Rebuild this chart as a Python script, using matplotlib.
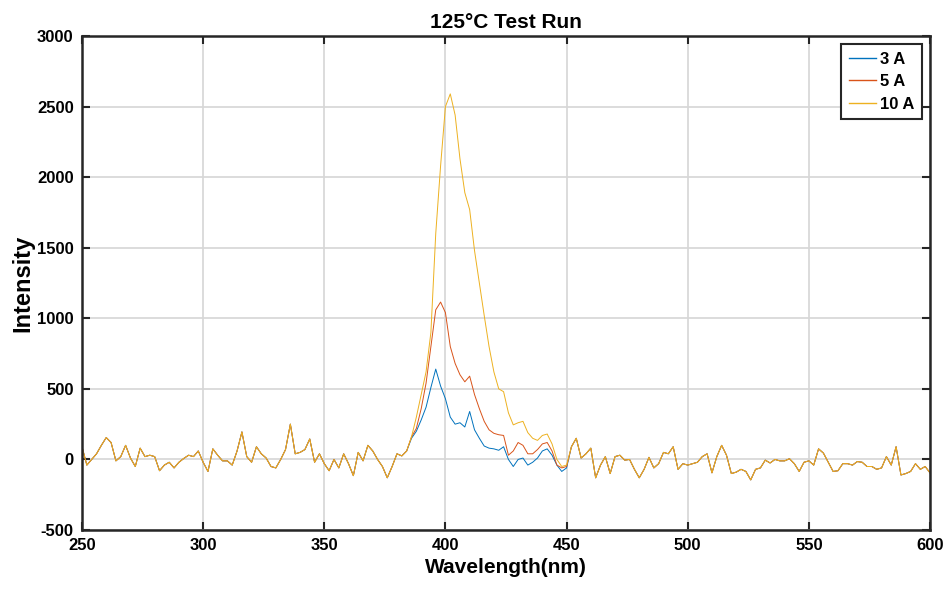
import numpy as np
import matplotlib
matplotlib.use("Agg")
import matplotlib.pyplot as plt

# --- data (2 nm steps) ---
wavelength = np.arange(250, 601, 2)

# shared baseline, 250-384 nm
base_left = [
    90, -40, 0, 40, 100, 155, 120, -10, 20, 100,
    10, -50, 80, 20, 30, 20, -80, -40, -20, -60,
    -20, 7, 30, 20, 60, -20, -85, 75, 30, -10,
    -10, -40, 60, 195, 20, -20, 90, 40, 10, -50,
    -60, 0, 70, 250, 40, 50, 70, 145, -20, 40,
    -30, -80, 0, -60, 40, -30, -115, 50, -10, 100,
    60, 0, -50, -130, -50, 40, 25, 60,
]

# peak region, 386-450 nm
peak_3a = [
    150, 200, 280, 370, 510, 640, 520, 430, 300, 250,
    260, 230, 340, 210, 150, 95, 80, 75, 65, 90,
    0, -50, 0, 10, -40, -20, 10, 60, 75, 30,
    -40, -85, -60,
]
peak_5a = [
    160, 220, 360, 540, 800, 1060, 1115, 1040, 800, 680,
    600, 550, 590, 460, 360, 270, 210, 185, 175, 170,
    30, 60, 120, 100, 40, 40, 70, 110, 120, 60,
    -40, -60, -50,
]
peak_10a = [
    160, 300, 460, 620, 900, 1600, 2080, 2500, 2590, 2440,
    2130, 1890, 1770, 1480, 1250, 1020, 800, 620, 500, 480,
    330, 245, 260, 270, 190, 150, 135, 170, 180, 110,
    0, -50, -40,
]

# shared baseline, 452-600 nm
base_right = [
    90, 150, 10, 40, 80, -130, -40, 20, -100, 20,
    30, -5, 0, -70, -130, -70, 15, -60, -30, 50,
    40, 90, -70, -30, -40, -30, -20, 20, 40, -95,
    20, 100, 30, -100, -90, -70, -85, -145, -70, -60,
    -5, -25, 0, -10, -10, 5, -30, -85, -20, -10,
    -40, 75, 45, -20, -85, -80, -30, -30, -40, -15,
    -20, -50, -50, -70, -60, 20, -40, 90, -110, -100,
    -85, -30, -70, -50, -95,
]

labels = ["3 A", "5 A", "10 A"]
colors = ["#0072BD", "#D95319", "#EDB120"]
peaks = [peak_3a, peak_5a, peak_10a]

plt.rcParams["font.family"] = ["Liberation Sans", "DejaVu Sans"]
plt.rcParams["font.weight"] = "bold"
plt.rcParams["axes.unicode_minus"] = False

fig = plt.figure(figsize=(9.49, 5.97), dpi=100)
ax = fig.add_axes([0.0864, 0.1122, 0.8936, 0.8275])

for lab, col, pk in zip(labels, colors, peaks):
    y = np.array(base_left + pk + base_right, dtype=float)
    ax.plot(wavelength, y, color=col, linewidth=0.7, label=lab)

ax.set_xlim(250, 600)
ax.set_ylim(-500, 3000)
ax.set_xticks(np.arange(250, 601, 50))
ax.set_yticks(np.arange(-500, 3001, 500))

ax.grid(True, color="#d6d6d6", linewidth=1.2)
ax.set_axisbelow(True)
for s in ax.spines.values():
    s.set_linewidth(1.8)
    s.set_color("#262626")

ax.tick_params(direction="in", length=6, width=1.5, top=True, right=True,
               labelsize=12, pad=6, colors="#262626")
for t in ax.get_xticklabels() + ax.get_yticklabels():
    t.set_fontweight("bold")
    t.set_color("black")

ax.set_title("125°C Test Run", fontsize=15, fontweight="bold", pad=6)
ax.set_xlabel("Wavelength(nm)", fontsize=15, fontweight="bold", labelpad=3)
ax.set_ylabel("Intensity", fontsize=17, fontweight="bold", labelpad=2)

leg = ax.legend(loc="upper right", fontsize=12, handlelength=1.6,
                handletextpad=0.25, borderpad=0.45, labelspacing=0.45,
                fancybox=False, framealpha=1, borderaxespad=0.5)
leg.get_frame().set_edgecolor("#262626")
leg.get_frame().set_linewidth(1.5)
for t in leg.get_texts():
    t.set_fontweight("bold")
for h in leg.get_lines():
    h.set_linewidth(1.0)

fig.savefig("out.png", dpi=100)
